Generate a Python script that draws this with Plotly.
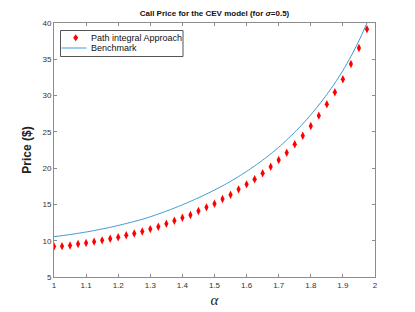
import plotly.graph_objects as go

alpha = [1.000, 1.025, 1.050, 1.075, 1.100, 1.125, 1.150, 1.175, 1.200, 1.225,
         1.250, 1.275, 1.300, 1.325, 1.350, 1.375, 1.400, 1.425, 1.450, 1.475,
         1.500, 1.525, 1.550, 1.575, 1.600, 1.625, 1.650, 1.675, 1.700, 1.725,
         1.750, 1.775, 1.800, 1.825, 1.850, 1.875, 1.900, 1.925, 1.950, 1.975]

path_integral = [9.20, 9.25, 9.35, 9.55, 9.68, 9.87, 10.05, 10.27, 10.47, 10.75,
                 11.00, 11.28, 11.60, 11.93, 12.34, 12.76, 13.17, 13.54, 14.09, 14.60,
                 15.10, 15.75, 16.34, 17.08, 17.77, 18.46, 19.29, 20.20, 21.12, 22.13,
                 23.29, 24.47, 25.81, 27.23, 28.80, 30.45, 32.24, 34.35, 36.55, 39.13]

benchmark = [10.55, 10.70, 10.85, 11.02, 11.20, 11.40, 11.62, 11.85, 12.10, 12.37,
             12.65, 12.95, 13.30, 13.68, 14.08, 14.50, 14.95, 15.42, 15.92, 16.44,
             16.98, 17.56, 18.18, 18.84, 19.55, 20.30, 21.10, 21.95, 22.88, 23.88,
             24.95, 26.10, 27.35, 28.70, 30.15, 31.72, 33.45, 35.40, 37.55, 40.00]

series_names = ["Path integral Approach", "Benchmark"]

x_ticks = [1.0, 1.1, 1.2, 1.3, 1.4, 1.5, 1.6, 1.7, 1.8, 1.9, 2.0]
x_tick_labels = ["1", "1.1", "1.2", "1.3", "1.4", "1.5", "1.6", "1.7", "1.8", "1.9", "2"]
y_ticks = [5, 10, 15, 20, 25, 30, 35, 40]

MARKER_COLOR = "#ff0000"
LINE_COLOR = "#3a9bd6"

fig = go.Figure()
fig.add_trace(go.Scatter(
    x=alpha, y=path_integral, mode="markers", name=series_names[0],
    marker=dict(symbol="diamond-tall", size=6, color=MARKER_COLOR, line=dict(width=0)),
    showlegend=False,
))
fig.add_trace(go.Scatter(
    x=alpha, y=benchmark, mode="lines", name=series_names[1],
    line=dict(color=LINE_COLOR, width=1, shape="spline", smoothing=0.6),
    showlegend=False,
))

# plot area in pixels
L, R, T, B = 54, 375, 23, 277
W, H = 415, 312


def px(x):
    return (x - L) / (R - L)


def py(y):
    return (B - y) / (B - T)


axis_common = dict(
    showline=True, linecolor="#8c8c8c", linewidth=1, mirror="ticks",
    ticks="inside", ticklen=3, tickcolor="#8c8c8c",
    showgrid=False, zeroline=False, automargin=False,
    tickfont=dict(family="Liberation Sans, Arial, sans-serif", size=8, color="#333333"),
)

legend_font = dict(family="Liberation Sans, Arial, sans-serif", size=9, color="#111111")

# compact MATLAB-style legend box
shapes = [
    dict(type="rect", xref="paper", yref="paper",
         x0=px(60.5), x1=px(183), y0=py(56.5), y1=py(30.5),
         line=dict(color="#555555", width=1), fillcolor="white", layer="above"),
    dict(type="path", xref="paper", yref="paper",
         path=f"M {px(75.7)} {py(34.2)} L {px(78.2)} {py(37.7)} L {px(75.7)} {py(41.2)} L {px(73.2)} {py(37.7)} Z",
         line=dict(width=0), fillcolor=MARKER_COLOR, layer="above"),
    dict(type="line", xref="paper", yref="paper",
         x0=px(61.5), x1=px(86.5), y0=py(48), y1=py(48),
         line=dict(color=LINE_COLOR, width=1), layer="above"),
]
annotations = [
    dict(text=series_names[0], xref="paper", yref="paper", x=px(88.5), y=py(37.7),
         xanchor="left", yanchor="middle", showarrow=False, font=legend_font),
    dict(text=series_names[1], xref="paper", yref="paper", x=px(88.5), y=py(48),
         xanchor="left", yanchor="middle", showarrow=False, font=legend_font),
]

fig.update_layout(
    width=W, height=H,
    margin=dict(l=L, r=W - R, t=T, b=H - B, autoexpand=False),
    paper_bgcolor="white", plot_bgcolor="white",
    title=dict(
        text="<b>Call Price for the CEV model (for <i>σ</i>=0.5)</b>",
        x=(L + R) / 2 / W, xanchor="center", y=1 - 13 / H, yanchor="middle",
        font=dict(family="Liberation Sans, Arial, sans-serif", size=8, color="#111111"),
    ),
    xaxis=dict(
        range=[1, 2], tickvals=x_ticks, ticktext=x_tick_labels,
        title=dict(text="<i>α</i>", font=dict(family="Liberation Serif, Times New Roman, serif", size=15, color="#222222"), standoff=5),
        **axis_common,
    ),
    yaxis=dict(
        range=[5, 40], tickvals=y_ticks,
        title=dict(text="<b>Price ($)</b>", font=dict(family="Liberation Sans, Arial, sans-serif", size=12, color="#222222"), standoff=8),
        **axis_common,
    ),
    shapes=shapes,
    annotations=annotations,
    showlegend=False,
)

fig.write_html(
    "out.html",
    config={"displayModeBar": False},
    post_script="document.body.style.margin='0';document.body.style.overflow='hidden';",
)
